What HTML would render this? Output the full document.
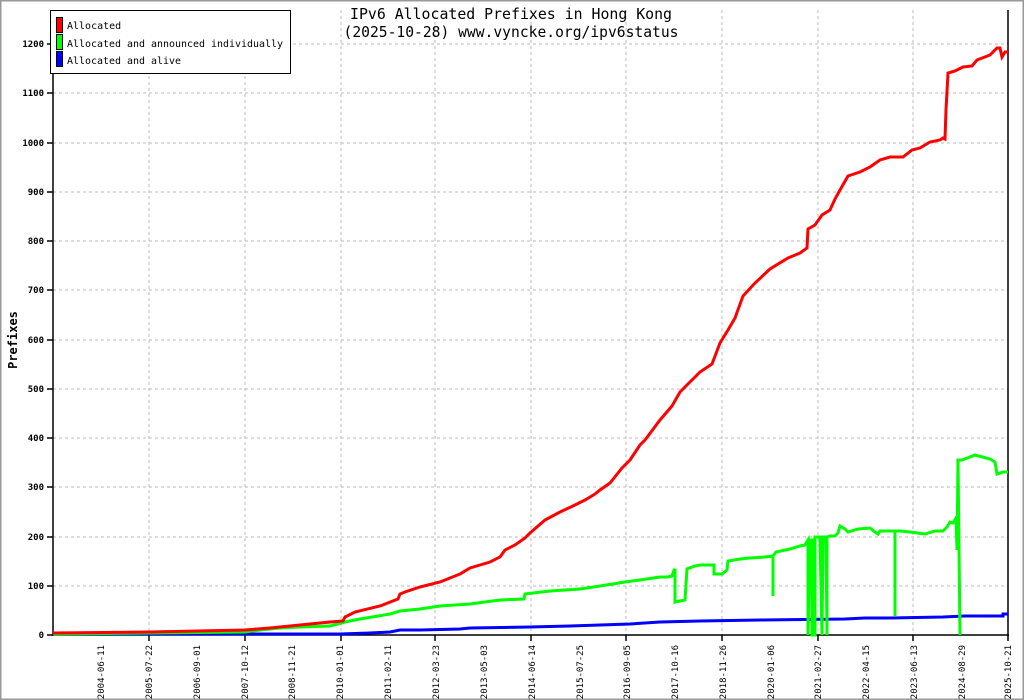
<!DOCTYPE html>
<html><head><meta charset="utf-8"><style>
html,body{margin:0;padding:0;background:#fff}
svg{display:block}
text{font-family:"DejaVu Sans Mono","Liberation Mono",monospace}
</style></head><body>
<svg width="1024" height="700" viewBox="0 0 1024 700" xmlns="http://www.w3.org/2000/svg">
<rect x="0" y="0" width="1024" height="700" fill="#fff"/>
<rect x="0.5" y="0.5" width="1023" height="699" fill="none" stroke="#999" stroke-width="2"/>
<g stroke="#bbb" stroke-width="1" stroke-dasharray="3,3" fill="none">
<path d="M53 586H1008M53 537H1008M53 487H1008M53 438H1008M53 389H1008M53 340H1008M53 290H1008M53 241H1008M53 192H1008M53 143H1008M53 93H1008M53 44H1008"/>
<path d="M149 10V635M245 10V635M341 10V635M435 10V635M531 10V635M626 10V635M722 10V635M818 10V635M913 10V635"/>
</g>
<g stroke="#000" stroke-width="1.5" fill="none">
<path d="M53 10V636M1008 10V636M52 635H1009"/>
<path d="M47 635H53M47 586H53M47 537H53M47 487H53M47 438H53M47 389H53M47 340H53M47 290H53M47 241H53M47 192H53M47 143H53M47 93H53M47 44H53"/>
<path d="M149 635V641M245 635V641M341 635V641M435 635V641M531 635V641M626 635V641M722 635V641M818 635V641M913 635V641M1008 635V641"/>
</g>
<g font-size="9" font-weight="bold" text-anchor="end" fill="#000">
<text x="44" y="638">0</text><text x="44" y="589">100</text><text x="44" y="540">200</text><text x="44" y="490">300</text><text x="44" y="441">400</text><text x="44" y="392">500</text><text x="44" y="343">600</text><text x="44" y="293">700</text><text x="44" y="244">800</text><text x="44" y="195">900</text><text x="44" y="146">1000</text><text x="44" y="96">1100</text><text x="44" y="47">1200</text>
</g>
<g font-size="9" text-anchor="end" fill="#000">
<text transform="translate(104,645) rotate(-90)">2004-06-11</text>
<text transform="translate(152,645) rotate(-90)">2005-07-22</text>
<text transform="translate(200,645) rotate(-90)">2006-09-01</text>
<text transform="translate(248,645) rotate(-90)">2007-10-12</text>
<text transform="translate(295,645) rotate(-90)">2008-11-21</text>
<text transform="translate(343,645) rotate(-90)">2010-01-01</text>
<text transform="translate(391,645) rotate(-90)">2011-02-11</text>
<text transform="translate(439,645) rotate(-90)">2012-03-23</text>
<text transform="translate(487,645) rotate(-90)">2013-05-03</text>
<text transform="translate(535,645) rotate(-90)">2014-06-14</text>
<text transform="translate(583,645) rotate(-90)">2015-07-25</text>
<text transform="translate(630,645) rotate(-90)">2016-09-05</text>
<text transform="translate(678,645) rotate(-90)">2017-10-16</text>
<text transform="translate(726,645) rotate(-90)">2018-11-26</text>
<text transform="translate(774,645) rotate(-90)">2020-01-06</text>
<text transform="translate(821,645) rotate(-90)">2021-02-27</text>
<text transform="translate(869,645) rotate(-90)">2022-04-15</text>
<text transform="translate(917,645) rotate(-90)">2023-06-13</text>
<text transform="translate(965,645) rotate(-90)">2024-08-29</text>
<text transform="translate(1011,645) rotate(-90)">2025-10-21</text>
</g>
<text transform="translate(17,340) rotate(-90)" font-size="12" font-weight="bold" text-anchor="middle">Prefixes</text>
<text x="511" y="19" font-size="15" text-anchor="middle" textLength="322" lengthAdjust="spacingAndGlyphs">IPv6 Allocated Prefixes in Hong Kong</text>
<text x="511" y="37" font-size="15" text-anchor="middle" textLength="335" lengthAdjust="spacingAndGlyphs">(2025-10-28) www.vyncke.org/ipv6status</text>
<g fill="none" stroke-width="3" stroke-linejoin="miter">
<polyline stroke="#0000ff" points="53,634 340,634 370,633 390,632 400,630 420,630 460,629 470,628 530,627 570,626 600,625 630,624 660,622 700,621 760,620 845,619 865,618 890,618 943,617 965,616 1003,616 1003,614 1008,614"/>
<polyline stroke="#00ff00" points="53,634 150,633 245,632 260,630 280,628 300,627 330,626 345,622 360,619 390,614 400,611 420,609 440,606 470,604 500,600 524,599 525,594 550,591 580,589 600,586 625,582 640,580 660,577 668,577 672,576 674,570 675,570 675,602 685,600 687,569 695,566 700,565 714,565 714,574 722,574 727,570 728,561 740,559 750,558 765,557 773,556 773,596 773,556 776,552 790,549 800,546 805,545 808,540 808,635 810,540 812,540 812,635 815,635 815,537 820,537 822,635 823,537 826,537 827,635 827,537 830,536 835,536 838,533 840,526 845,529 848,532 858,529 870,528 875,532 878,534 880,531 895,531 895,616 895,531 900,531 910,532 925,534 935,531 943,531 947,527 950,522 953,523 956,518 957,550 958,460 960,635 958,460 962,460 970,457 975,455 990,459 995,462 997,474 1003,472 1008,472"/>
<polyline stroke="#ff0000" points="53,633 150,632 245,630 270,628 300,625 330,622 343,621 345,617 355,612 380,606 398,599 400,594 405,592 420,587 440,582 460,574 470,568 490,562 500,557 505,550 515,545 525,538 530,533 545,520 560,512 575,505 585,500 595,494 600,490 610,483 622,468 630,460 640,445 645,440 660,420 672,406 680,392 690,382 700,372 712,364 720,343 728,330 735,318 743,296 755,283 770,269 788,258 800,253 807,248 808,229 815,225 822,215 830,210 835,199 840,190 848,176 860,172 870,167 880,160 890,157 903,157 912,150 920,148 930,142 940,140 943,138 945,139 946,110 948,73 955,71 963,67 972,66 977,60 990,55 997,48 1000,48 1002,57 1005,52 1008,52"/>
</g>
<rect x="50.5" y="10.5" width="240" height="63" fill="#fff" stroke="#000" stroke-width="1"/>
<rect x="56.5" y="17.5" width="6" height="15" fill="#ff0000" stroke="#000"/>
<rect x="56.5" y="34.5" width="6" height="15" fill="#00ff00" stroke="#000"/>
<rect x="56.5" y="51.5" width="6" height="15" fill="#0000ff" stroke="#000"/>
<g font-size="10" fill="#000">
<text x="67" y="29">Allocated</text>
<text x="67" y="47" textLength="216" lengthAdjust="spacingAndGlyphs">Allocated and announced individually</text>
<text x="67" y="64" textLength="114" lengthAdjust="spacingAndGlyphs">Allocated and alive</text>
</g>
</svg>
</body></html>
